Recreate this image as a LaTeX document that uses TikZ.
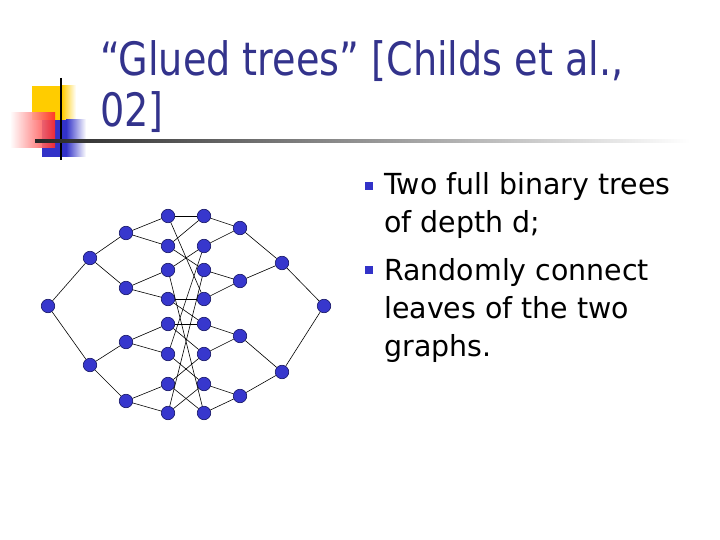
\documentclass[tikz,border=0pt]{standalone}
\usepackage{fontspec}
\setmainfont{DejaVu Sans}
\usepackage{tikz}

\definecolor{titleblue}{RGB}{51,51,140}
\definecolor{nodeblue}{RGB}{55,55,205}
\definecolor{nodeedge}{RGB}{20,20,100}
\definecolor{logoyellow}{RGB}{255,204,0}
\definecolor{logored}{RGB}{255,40,40}
\definecolor{logoblue}{RGB}{50,50,200}

\tikzset{
	vtx/.style={shape=circle,draw=nodeedge,fill=nodeblue,line width=0.6pt,inner sep=0pt,minimum size=13.5pt},
	ttl/.style={anchor=base west,inner sep=0pt,text=titleblue,font=\fontsize{46}{50}\selectfont},
	txt/.style={anchor=base west,inner sep=0pt,text=black,font=\fontsize{29}{35}\selectfont},
	bul/.style={fill=logoblue,draw=none,minimum size=8.5pt,inner sep=0pt}
}

\begin{document}
\begin{tikzpicture}[x=1pt,y=-1pt,line width=0.6pt]
	\useasboundingbox (0,0) rectangle (720,540);
	% logo
	\fill[logoyellow] (32,86) rectangle (62,120);
	\shade[left color=logoyellow,right color=white] (62,86) rectangle (76,120);
	\fill[logoblue] (42,120) rectangle (66,157);
	\shade[left color=logoblue,right color=white] (66,120) rectangle (86,157);
	\shade[left color=white,right color=logored,opacity=0.9] (10,113) rectangle (55,148);
	\draw[line width=2pt] (61,78) -- (61,160);
	\shade[left color=black!85,right color=white] (35,139.5) rectangle (690,142.5);
	% title
	\node[ttl] (t1) at (100,76) {\scalebox{0.83}[1]{“Glued trees” [Childs et al.,}};
	\node[ttl] (t2) at (100,127) {\scalebox{0.83}[1]{02]}};
	% bullets
	\node[bul] (b1) at (369,186) {};
	\node[bul] (b2) at (369,270) {};
	\node[txt] (x1) at (384,195) {\scalebox{0.98}[1]{Two full binary trees}};
	\node[txt] (x2) at (384,233) {\scalebox{0.98}[1]{of depth d;}};
	\node[txt] (x3) at (384,280) {\scalebox{0.98}[1]{Randomly connect}};
	\node[txt] (x4) at (384,318) {\scalebox{0.98}[1]{leaves of the two}};
	\node[txt] (x5) at (384,356) {\scalebox{0.98}[1]{graphs.}};
	% left tree
	\node[vtx] (lr) at (48,306) {};
	\node[vtx] (la) at (90,258) {};
	\node[vtx] (lb) at (90,365) {};
	\node[vtx] (lc) at (126,233) {};
	\node[vtx] (ld) at (126,288) {};
	\node[vtx] (le) at (126,342) {};
	\node[vtx] (lf) at (126,401) {};
	\node[vtx] (p1) at (168,216) {};
	\node[vtx] (p2) at (168,246) {};
	\node[vtx] (p3) at (168,270) {};
	\node[vtx] (p4) at (168,299) {};
	\node[vtx] (p5) at (168,324) {};
	\node[vtx] (p6) at (168,354) {};
	\node[vtx] (p7) at (168,384) {};
	\node[vtx] (p8) at (168,413) {};
	% right tree
	\node[vtx] (q1) at (204,216) {};
	\node[vtx] (q2) at (204,246) {};
	\node[vtx] (q3) at (204,270) {};
	\node[vtx] (q4) at (204,299) {};
	\node[vtx] (q5) at (204,324) {};
	\node[vtx] (q6) at (204,354) {};
	\node[vtx] (q7) at (204,384) {};
	\node[vtx] (q8) at (204,413) {};
	\node[vtx] (rc) at (240,228) {};
	\node[vtx] (rd) at (240,281) {};
	\node[vtx] (re) at (240,336) {};
	\node[vtx] (rf) at (240,396) {};
	\node[vtx] (ra) at (282,263) {};
	\node[vtx] (rb) at (282,372) {};
	\node[vtx] (rr) at (324,306) {};
	% tree edges
	\path[-] (lr) edge (la);
	\path[-] (lr) edge (lb);
	\path[-] (la) edge (lc);
	\path[-] (la) edge (ld);
	\path[-] (lb) edge (le);
	\path[-] (lb) edge (lf);
	\path[-] (lc) edge (p1);
	\path[-] (lc) edge (p2);
	\path[-] (ld) edge (p3);
	\path[-] (ld) edge (p4);
	\path[-] (le) edge (p5);
	\path[-] (le) edge (p6);
	\path[-] (lf) edge (p7);
	\path[-] (lf) edge (p8);
	\path[-] (rr) edge (ra);
	\path[-] (rr) edge (rb);
	\path[-] (ra) edge (rc);
	\path[-] (ra) edge (rd);
	\path[-] (rb) edge (re);
	\path[-] (rb) edge (rf);
	\path[-] (rc) edge (q1);
	\path[-] (rc) edge (q2);
	\path[-] (rd) edge (q3);
	\path[-] (rd) edge (q4);
	\path[-] (re) edge (q5);
	\path[-] (re) edge (q6);
	\path[-] (rf) edge (q7);
	\path[-] (rf) edge (q8);
	% glue between leaves
	\path[-] (p1) edge (q1);
	\path[-] (p1) edge (q4);
	\path[-] (p2) edge (q1);
	\path[-] (p2) edge (q3);
	\path[-] (p3) edge (q2);
	\path[-] (p3) edge (q8);
	\path[-] (p4) edge (q4);
	\path[-] (p4) edge (q5);
	\path[-] (p5) edge (q5);
	\path[-] (p5) edge (q6);
	\path[-] (p6) edge (q2);
	\path[-] (p6) edge (q7);
	\path[-] (p7) edge (q6);
	\path[-] (p7) edge (q8);
	\path[-] (p8) edge (q7);
	\path[-] (p8) edge (q3);
\end{tikzpicture}
\end{document}
